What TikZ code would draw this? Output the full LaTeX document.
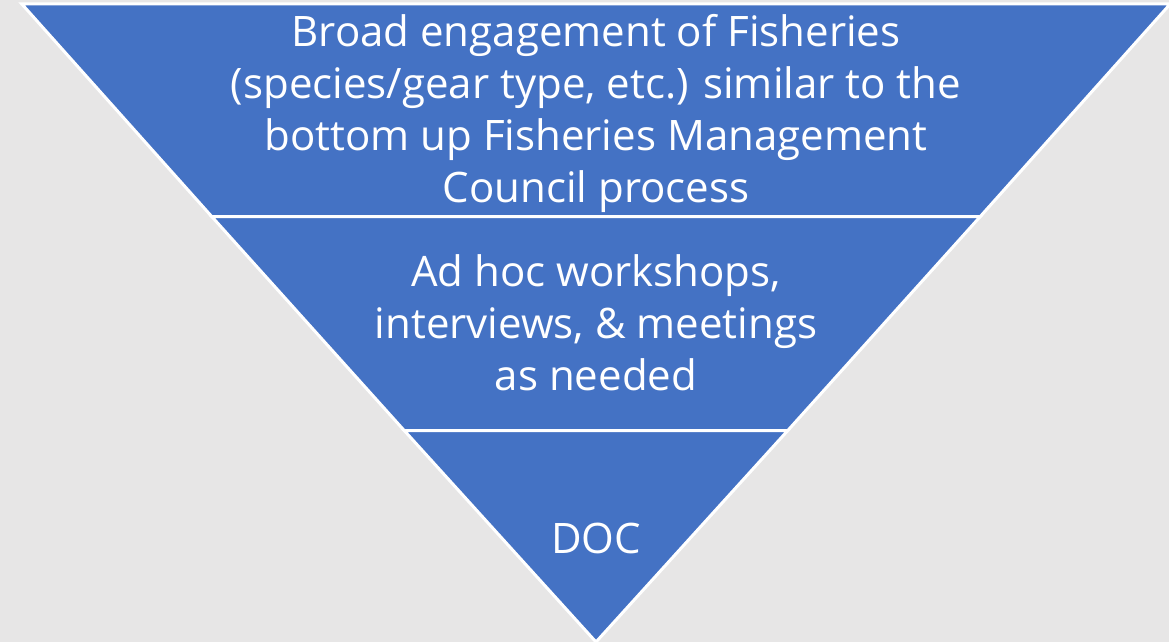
\documentclass[tikz,border=0pt]{standalone}
\usepackage{fontspec}
\setmainfont{Open Sans}
\definecolor{bgc}{HTML}{E7E6E6}
\definecolor{blu}{HTML}{4472C4}
\tikzset{
  layer/.style={fill=blu, draw=white, line width=3pt, line join=miter},
  lbl/.style={text=white, align=center, font=\fontsize{42}{52}\selectfont, inner sep=0pt}
}
\begin{document}
\begin{tikzpicture}[x=1pt,y=-1pt]
\useasboundingbox (0,0) rectangle (1169,642);
\fill[bgc] (0,0) rectangle (1169,642);
\clip (0,0) rectangle (1169,642);
\draw[layer] (21.8,4) -- (1170.2,4) -- (980.3,216.5) -- (211.7,216.5) -- cycle;
\draw[layer] (211.7,216.5) -- (980.3,216.5) -- (787.8,430.5) -- (404.2,430.5) -- cycle;
\draw[layer] (404.2,430.5) -- (787.8,430.5) -- (596,642) -- cycle;
\node[lbl] (t1) at (596,113) {Broad engagement of Fisheries\\(species/gear type, etc.) similar to the\\bottom up Fisheries Management\\Council process};
\node[lbl] (t2) at (596,323) {Ad hoc workshops,\\interviews, \& meetings\\as needed};
\node[lbl] (t3) at (596,538) {DOC};
\end{tikzpicture}
\end{document}
